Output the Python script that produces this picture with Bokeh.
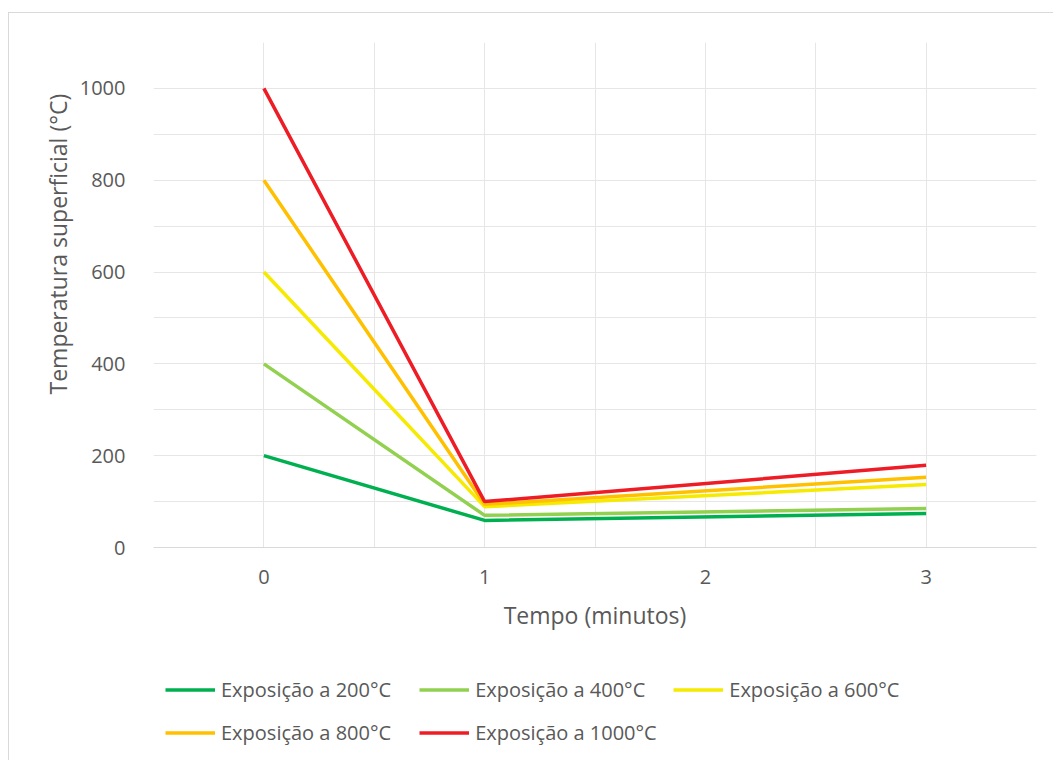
from bokeh.plotting import figure
from bokeh.layouts import column
from bokeh.models import FixedTicker, Legend, LegendItem, Range1d, Title
from bokeh.embed import file_html
from bokeh.resources import INLINE

tempo = [0, 1, 3]
exp_200 = [200, 59, 74]
exp_400 = [400, 70, 85]
exp_600 = [600, 89, 137]
exp_800 = [800, 94, 153]
exp_1000 = [1000, 100, 179]

series_names = ["Exposição a 200°C", "Exposição a 400°C", "Exposição a 600°C",
                "Exposição a 800°C", "Exposição a 1000°C"]
series_values = [exp_200, exp_400, exp_600, exp_800, exp_1000]
series_colors = ["#00B050", "#92D050", "#F5EA00", "#FFC000", "#EE1C25"]

x_ticks = [0, 1, 2, 3]
x_minor = [-0.5, 0.5, 1.5, 2.5, 3.5]
y_ticks = [0, 200, 400, 600, 800, 1000]
y_minor = [100, 300, 500, 700, 900, 1100]

FONT = "Open Sans"
TXT = "#595959"
GRID = "#E6E6E6"

W = 1044
p = figure(width=W, height=638, output_backend="svg", toolbar_location=None,
           x_range=Range1d(-0.5, 3.5), y_range=Range1d(0, 1100),
           min_border_left=144, min_border_right=17, min_border_top=29,
           min_border_bottom=104)
p.outline_line_color = None
p.background_fill_color = "white"
p.border_fill_color = "white"

p.xaxis.ticker = FixedTicker(ticks=x_ticks, minor_ticks=x_minor)
p.yaxis.ticker = FixedTicker(ticks=y_ticks, minor_ticks=y_minor)

for ax in (p.xaxis[0], p.yaxis[0]):
    ax.major_tick_line_color = None
    ax.minor_tick_line_color = None
    ax.major_label_text_font = FONT
    ax.major_label_text_font_size = "20px"
    ax.major_label_text_color = TXT
    ax.axis_label_text_font = FONT
    ax.axis_label_text_font_size = "23px"
    ax.axis_label_text_font_style = "normal"
    ax.axis_label_text_color = TXT

p.xaxis.axis_line_color = "#D9D9D9"
p.yaxis.axis_line_color = None
p.xaxis.axis_label = "Tempo (minutos)"
p.xaxis.major_label_standoff = 16
p.xaxis.axis_label_standoff = 12
p.yaxis.major_label_standoff = 22

ytitle = Title(text="Temperatura superficial (°C)", align="left", offset=153,
               standoff=6, text_font=FONT, text_font_size="23px",
               text_font_style="normal", text_color=TXT)
p.add_layout(ytitle, "left")

p.xgrid.grid_line_color = GRID
p.ygrid.grid_line_color = GRID
p.xgrid.minor_grid_line_color = GRID
p.ygrid.minor_grid_line_color = GRID

for vals, col in zip(series_values, series_colors):
    p.line(tempo, vals, line_color=col, line_width=3.5)

# Legend panel: same series drawn in a strip whose range excludes the data
lf = figure(width=W, height=110, output_backend="svg", toolbar_location=None,
            x_range=Range1d(100, 101), y_range=Range1d(100, 101),
            x_axis_type=None, y_axis_type=None,
            min_border_left=0, min_border_right=0, min_border_top=0, min_border_bottom=0)
lf.outline_line_color = None
lf.grid.visible = False
lf.background_fill_color = "white"
lf.border_fill_color = "white"

items = []
for name, vals, col in zip(series_names, series_values, series_colors):
    r = lf.line(tempo, vals, line_color=col, line_width=3.5)
    items.append(LegendItem(label=name, renderers=[r]))

def make_legend(its, loc):
    return Legend(items=its, orientation="horizontal",
                  location=loc, glyph_width=50, glyph_height=15,
                  label_standoff=6, spacing=28, padding=0, margin=0,
                  label_text_font=FONT, label_text_font_size="20px",
                  label_text_color=TXT, background_fill_alpha=0,
                  border_line_color=None, label_height=15)

lf.add_layout(make_legend(items[:3], (12, 58)))
lf.add_layout(make_legend(items[3:], (12, 15)))

layout = column(p, lf, spacing=0, margin=(12, 0, 0, 8),
                styles={"border-left": "1px solid #D9D9D9", "border-top": "1px solid #D9D9D9",
                        "background-color": "white"})

open("out.html", "w").write(file_html(layout, INLINE))
